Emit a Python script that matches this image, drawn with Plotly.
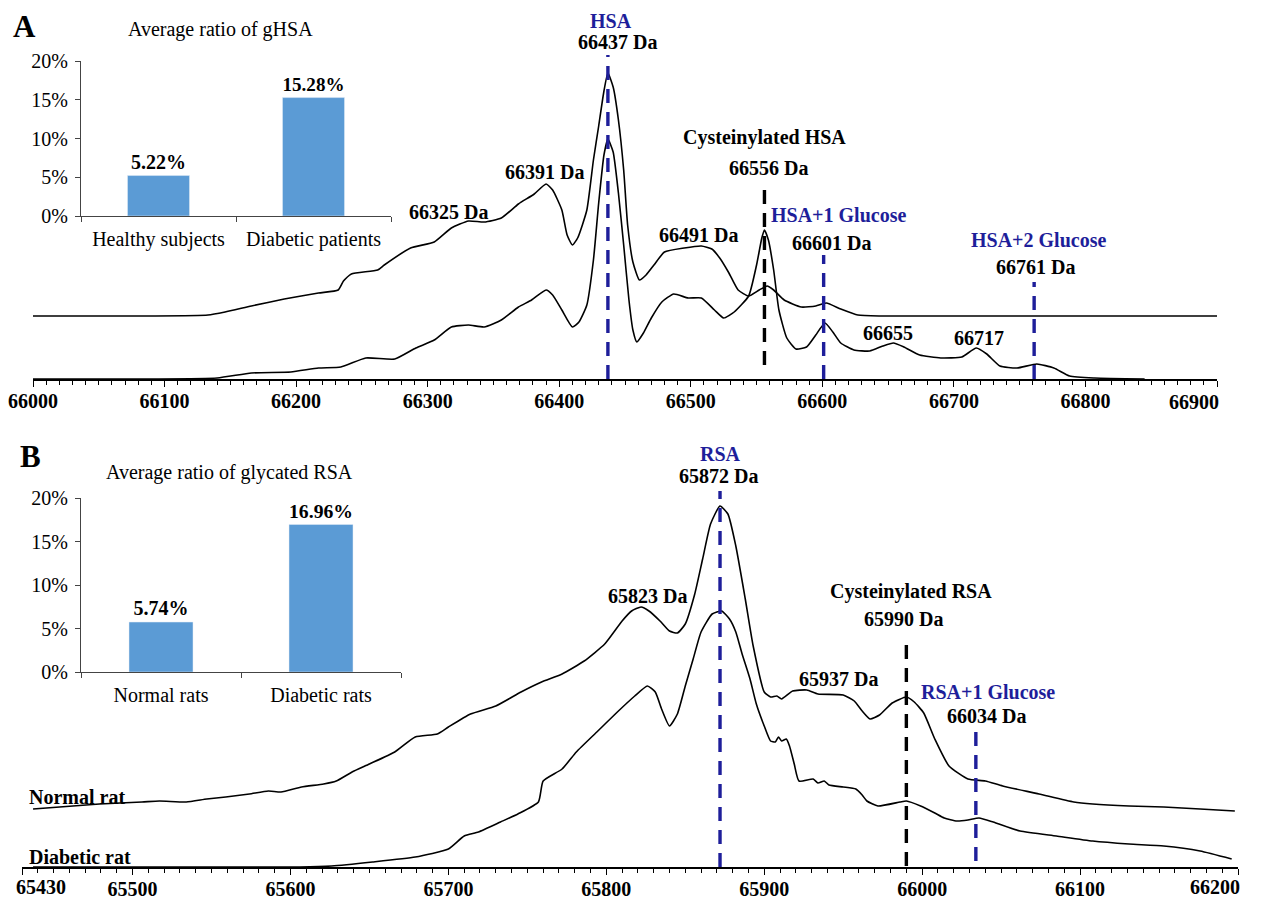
import plotly.graph_objects as go

W, H = 1271, 907
FONT = "Liberation Serif"
BLUE = "#1E1E9A"
BAR = "#5B9BD5"

# ---------------- Panel A data ----------------
hsa_healthy_mass = [66000, 66090, 66133, 66146, 66166, 66191, 66217, 66232, 66236, 66242, 66262, 66267,
                    66287, 66305, 66318, 66331, 66343, 66356, 66369, 66381, 66390, 66395, 66402, 66406,
                    66410, 66414, 66421, 66426, 66430, 66434, 66437, 66441, 66445, 66449, 66452, 66456,
                    66461, 66466, 66472, 66480, 66495, 66508, 66516, 66522, 66529, 66536, 66544, 66552,
                    66558, 66563, 66571, 66584, 66595, 66603, 66614, 66627, 66645, 66900]
hsa_healthy_int = [0, 0, 1, 4, 10, 17, 23, 26, 35, 42, 46, 51,
                   68, 74, 88, 95, 94, 98, 112, 122, 132, 126, 106, 81,
                   71, 78, 106, 156, 190, 225, 243, 229, 196, 146, 91, 54,
                   36, 41, 51, 64, 68, 70, 67, 58, 43, 26, 20, 26,
                   30, 26, 16, 9, 10, 13, 7, 1, 0, 0]

hsa_diabetic_mass = [66000, 66090, 66140, 66166, 66196, 66217, 66234, 66253, 66275, 66291, 66305, 66318,
                     66331, 66343, 66356, 66369, 66379, 66390, 66395, 66402, 66410, 66415, 66421, 66426,
                     66430, 66434, 66437, 66441, 66445, 66449, 66453, 66456, 66459, 66464, 66470, 66478,
                     66487, 66498, 66508, 66518, 66525, 66533, 66544, 66550, 66554, 66556, 66559, 66563,
                     66567, 66573, 66580, 66588, 66595, 66602, 66608, 66614, 66624, 66636, 66646, 66654,
                     66662, 66674, 66690, 66706, 66717, 66725, 66735, 66748, 66763, 66776, 66788, 66807,
                     66845]
hsa_diabetic_int = [0, 0, 1, 6, 7, 11, 12, 21, 20, 31, 39, 52,
                    54, 52, 59, 72, 79, 89, 84, 69, 52, 57, 74, 119,
                    176, 224, 240, 227, 186, 134, 79, 49, 37, 46, 61, 77,
                    85, 81, 81, 69, 61, 67, 83, 114, 141, 149, 139, 109,
                    69, 41, 30, 32, 44, 56, 47, 36, 29, 28, 33, 36,
                    32, 24, 21, 22, 31, 25, 13, 11, 15, 11, 3, 1,
                    0]

# ---------------- Panel B data ----------------
rsa_normal_mass = [65437, 65479, 65506, 65517, 65534, 65547, 65559, 65574, 65586, 65594, 65607, 65621,
                   65629, 65639, 65650, 65666, 65679, 65693, 65700, 65714, 65730, 65746, 65759, 65772,
                   65786, 65799, 65810, 65816, 65822, 65827, 65834, 65840, 65845, 65850, 65856, 65861,
                   65866, 65872, 65877, 65882, 65888, 65893, 65900, 65904, 65908, 65911, 65918, 65927,
                   65934, 65950, 65957, 65962, 65967, 65973, 65981, 65990, 65995, 66001, 66008, 66017,
                   66029, 66040, 66051, 66074, 66096, 66108, 66131, 66153, 66176, 66198]
rsa_normal_int = [0, 5, 7, 8, 7, 10, 12, 15, 18, 17, 22, 25,
                  28, 37, 45, 57, 72, 75, 82, 95, 103, 117, 127, 135,
                  148, 165, 188, 198, 202, 198, 188, 178, 176, 185, 215, 250,
                  285, 303, 295, 263, 210, 163, 117, 112, 113, 110, 118, 119,
                  115, 114, 108, 98, 90, 94, 106, 112, 107, 96, 70, 43,
                  30, 28, 23, 15, 7, 5, 3, 2, 0, -2]

rsa_diabetic_mass = [65437, 65606, 65626, 65652, 65679, 65700, 65710, 65719, 65733, 65744, 65757, 65760,
                     65772, 65781, 65794, 65807, 65818, 65826, 65831, 65835, 65840, 65845, 65850, 65855,
                     65860, 65867, 65873, 65878, 65882, 65886, 65891, 65895, 65900, 65904, 65907, 65909,
                     65911, 65914, 65916, 65919, 65922, 65931, 65934, 65938, 65941, 65950, 65958, 65962,
                     65965, 65972, 65986, 65990, 65999, 66008, 66014, 66022, 66029, 66036, 66045, 66062,
                     66085, 66108, 66131, 66153, 66176, 66196]
rsa_diabetic_int = [0, 0, 1, 5, 10, 18, 31, 35, 45, 53, 65, 86,
                    98, 115, 135, 155, 171, 181, 175, 158, 141, 153, 181, 208,
                    235, 253, 256, 248, 235, 213, 188, 163, 141, 126, 125, 130,
                    126, 128, 121, 103, 86, 88, 84, 86, 82, 80, 78, 72,
                    66, 61, 65, 66, 61, 54, 49, 46, 47, 49, 45, 36,
                    31, 26, 23, 21, 16, 8]

# ---------------- Inset bar data ----------------
a_categories = ["Healthy subjects", "Diabetic patients"]
a_ratios = [0.0522, 0.1528]
b_categories = ["Normal rats", "Diabetic rats"]
b_ratios = [0.0574, 0.1696]

# ---------------- Axis tick labels ----------------
a_tickvals = [66000, 66100, 66200, 66300, 66400, 66500, 66600, 66700, 66800, 66900]
b_tickvals = [65430, 65500, 65600, 65700, 65800, 65900, 66000, 66100, 66200]

# display offsets for the stacked traces (intensity units)
A_OFFSET = 63
B_OFFSET = 58


def px(x):
    return x / W


def py(y):
    return 1 - y / H


fig = go.Figure()
line_style = dict(color="black", width=1.6, shape="spline", smoothing=0.5)

fig.add_trace(go.Scatter(x=hsa_healthy_mass, y=[v + A_OFFSET for v in hsa_healthy_int], mode="lines",
                         line=line_style, xaxis="x", yaxis="y", showlegend=False, hoverinfo="skip"))
fig.add_trace(go.Scatter(x=hsa_diabetic_mass, y=hsa_diabetic_int, mode="lines",
                         line=line_style, xaxis="x", yaxis="y", showlegend=False, hoverinfo="skip"))
fig.add_trace(go.Scatter(x=rsa_normal_mass, y=[v + B_OFFSET for v in rsa_normal_int], mode="lines",
                         line=line_style, xaxis="x3", yaxis="y3", showlegend=False, hoverinfo="skip"))
fig.add_trace(go.Scatter(x=rsa_diabetic_mass, y=rsa_diabetic_int, mode="lines",
                         line=line_style, xaxis="x3", yaxis="y3", showlegend=False, hoverinfo="skip"))

bar_text_font = dict(family=FONT, size=20, color="black", weight="bold")
fig.add_trace(go.Bar(x=a_categories, y=a_ratios, marker_color=BAR, width=0.4,
                     texttemplate="%{y:.2%}", textposition="outside", textfont=bar_text_font,
                     cliponaxis=False, xaxis="x2", yaxis="y2", showlegend=False, hoverinfo="skip"))
fig.add_trace(go.Bar(x=b_categories, y=b_ratios, marker_color=BAR, width=0.4,
                     texttemplate="%{y:.2%}", textposition="outside", textfont=bar_text_font,
                     cliponaxis=False, xaxis="x4", yaxis="y4", showlegend=False, hoverinfo="skip"))

# dashed marker lines
def vline(x, y0, y1, color, xref, yref):
    fig.add_shape(type="line", x0=x, x1=x, y0=y0, y1=y1, xref=xref, yref=yref,
                  line=dict(color=color, width=3.4, dash="14px,9px"))

vline(66437, 0, 324, BLUE, "x", "y")
vline(66556, 14, 197, "black", "x", "y")
vline(66601, 0, 124, BLUE, "x", "y")
vline(66761, 0, 97, BLUE, "x", "y")
vline(65872, 0, 376, BLUE, "x3", "y3")
vline(65990, 1, 231, "black", "x3", "y3")
vline(66034, 6, 135, BLUE, "x3", "y3")

bold = dict(family=FONT, size=20, color="black", weight="bold")
bold_blue = dict(family=FONT, size=20, color=BLUE, weight="bold")
reg = dict(family=FONT, size=20, color="black")


def ann(text, x, y, font, xref, yref, xanchor="center"):
    fig.add_annotation(text=text, x=x, y=y, xref=xref, yref=yref, showarrow=False,
                       font=font, xanchor=xanchor, yanchor="middle")

# Panel A labels
ann("HSA", 66439, 358, bold_blue, "x", "y")
ann("66437 Da", 66444, 337, bold, "x", "y")
ann("66391 Da", 66389, 207, bold, "x", "y")
ann("66325 Da", 66316, 167, bold, "x", "y")
ann("Cysteinylated HSA", 66556, 242, bold, "x", "y")
ann("66556 Da", 66559, 211, bold, "x", "y")
ann("HSA+1 Glucose", 66612, 164, bold_blue, "x", "y")
ann("66491 Da", 66506, 144, bold, "x", "y")
ann("66601 Da", 66607, 136, bold, "x", "y")
ann("HSA+2 Glucose", 66764, 139, bold_blue, "x", "y")
ann("66761 Da", 66762, 112, bold, "x", "y")
ann("66655", 66650, 46, bold, "x", "y")
ann("66717", 66719, 41, bold, "x", "y")
ann("Healthy subject", 65998, 74, bold, "x", "y", "left")
ann("Diabetic patient", 65998, 11, bold, "x", "y", "left")

# Panel B labels
ann("RSA", 65872, 413, bold_blue, "x3", "y3")
ann("65872 Da", 65871, 391, bold, "x3", "y3")
ann("65823 Da", 65826, 271, bold, "x3", "y3")
ann("Cysteinylated RSA", 65993, 276, bold, "x3", "y3")
ann("65990 Da", 65988, 248, bold, "x3", "y3")
ann("65937 Da", 65947, 188, bold, "x3", "y3")
ann("RSA+1 Glucose", 66042, 175, bold_blue, "x3", "y3")
ann("66034 Da", 66041, 151, bold, "x3", "y3")
ann("Normal rat", 65433, 70, bold, "x3", "y3", "left")
ann("Diabetic rat", 65433, 10, bold, "x3", "y3", "left")

# edge tick labels kept inside the picture
tick_bold = dict(family=FONT, size=20, color="black", weight="bold")
fig.add_annotation(text=str(a_tickvals[-1]), x=a_tickvals[-1], y=py(394), xref="x", yref="paper",
                   showarrow=False, font=tick_bold, xanchor="right", yanchor="middle", xshift=4)
fig.add_annotation(text=str(b_tickvals[0]), x=b_tickvals[0], y=py(879), xref="x3", yref="paper",
                   showarrow=False, font=tick_bold, xanchor="left", yanchor="middle", xshift=-8)
fig.add_annotation(text=str(b_tickvals[-1]), x=b_tickvals[-1], y=py(879), xref="x3", yref="paper",
                   showarrow=False, font=tick_bold, xanchor="right", yanchor="middle", xshift=4)

# Panel letters and inset titles
ann("A", px(16), py(19), dict(family=FONT, size=31, color="black", weight="bold"), "paper", "paper")
ann("B", px(22), py(448), dict(family=FONT, size=31, color="black", weight="bold"), "paper", "paper")
ann("Average ratio of gHSA", px(213), py(21), reg, "paper", "paper")
ann("Average ratio of glycated RSA", px(222), py(465), reg, "paper", "paper")

main_x = dict(showline=True, linecolor="black", linewidth=1.5, ticks="outside", ticklen=6, tickwidth=1.3,
              tickcolor="black", showgrid=False, zeroline=False, automargin=False, tickmode="array",
              ticklabelstandoff=-3,
              tickfont=dict(family=FONT, size=20, color="black", weight="bold"))
hidden_y = dict(visible=False, showgrid=False, zeroline=False, fixedrange=True)
inset_x = dict(showline=True, linecolor="#444", linewidth=1.2, ticks="outside", ticklen=5, tickcolor="#444",
               tickson="boundaries", showgrid=False, zeroline=False, automargin=False, ticklabelstandoff=5,
               tickfont=dict(family=FONT, size=20, color="black"))
inset_y = dict(showline=True, linecolor="#444", linewidth=1.2, ticks="outside", ticklen=5, tickcolor="#444",
               range=[0, 0.2], dtick=0.05, tickformat=".0%", showgrid=False, zeroline=False, automargin=False,
               ticklabelstandoff=3,
               tickfont=dict(family=FONT, size=20, color="black"))

a_ticktext = [str(v) for v in a_tickvals[:-1]] + [""]
b_ticktext = [""] + [str(v) for v in b_tickvals[1:-1]] + [""]

fig.update_layout(
    width=W, height=H, margin=dict(l=0, r=0, t=0, b=0),
    paper_bgcolor="white", plot_bgcolor="rgba(0,0,0,0)", showlegend=False,
    xaxis=dict(main_x, domain=[px(25), px(1209)], range=[66000, 66900],
               tickvals=a_tickvals, ticktext=a_ticktext,
               minor=dict(dtick=10, tick0=66000, ticks="outside", ticklen=4, tickcolor="black"), anchor="y"),
    yaxis=dict(hidden_y, domain=[py(371), 1], range=[0, 371], anchor="x"),
    xaxis2=dict(inset_x, domain=[px(73), px(383)], anchor="y2"),
    yaxis2=dict(inset_y, domain=[py(208), py(53)], anchor="x2"),
    xaxis3=dict(main_x, domain=[px(14), px(1230)], range=[65430, 66200],
                tickvals=b_tickvals, ticktext=b_ticktext,
                minor=dict(dtick=10, tick0=65430, ticks="outside", ticklen=4, tickcolor="black"), anchor="y3"),
    yaxis3=dict(hidden_y, domain=[py(859), py(439)], range=[0, 420], anchor="x3"),
    xaxis4=dict(inset_x, domain=[px(73), px(393)], anchor="y4"),
    yaxis4=dict(inset_y, domain=[py(664), py(490)], anchor="x4"),
)

fig.write_html("out.html")
